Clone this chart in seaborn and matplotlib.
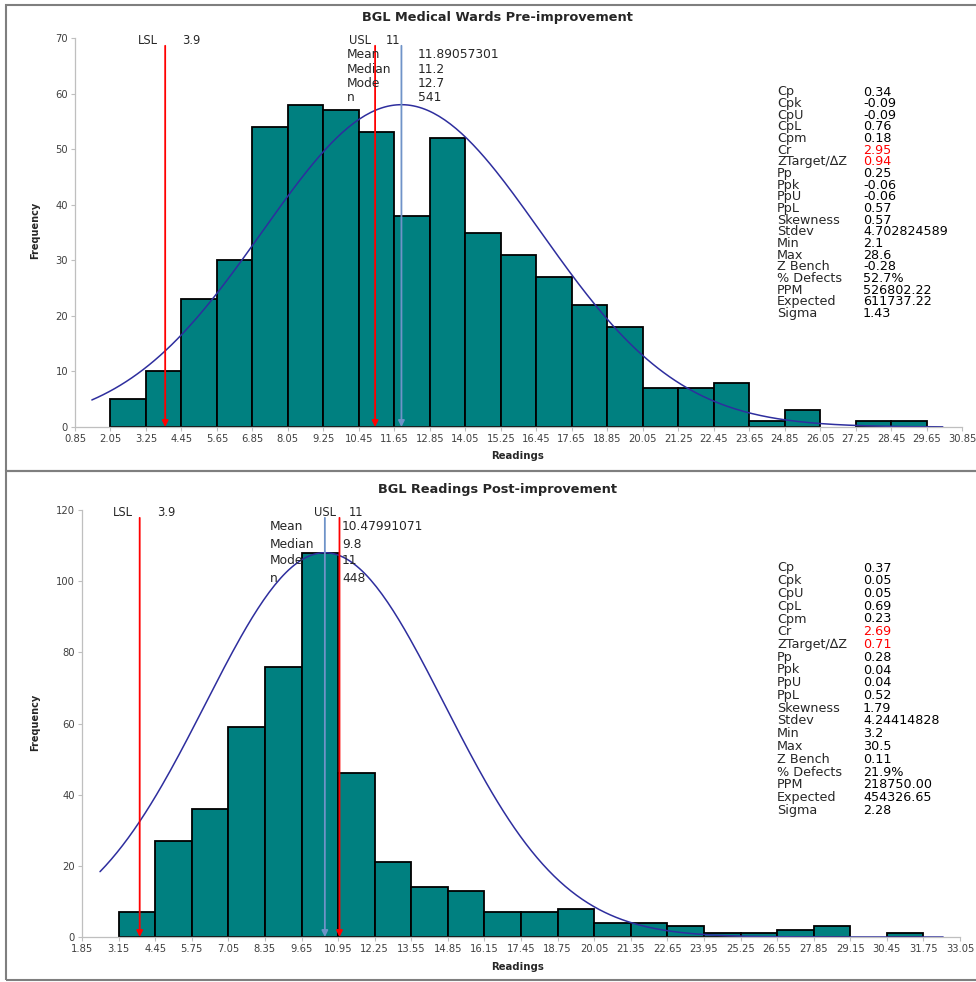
import numpy as np
import pandas as pd
import matplotlib
matplotlib.use("Agg")
import matplotlib.pyplot as plt
import seaborn as sns
from matplotlib.patches import Rectangle

# ---- data ----
pre_title = "BGL Medical Wards Pre-improvement"
pre_bin_start = 0.85
pre_bin_width = 1.2
pre_counts = [0, 5, 10, 23, 30, 54, 58, 57, 53, 38, 52, 35, 31, 27, 22, 18,
              7, 7, 8, 1, 3, 0, 1, 1, 0]
pre_mean, pre_sd, pre_peak = 11.89057301, 4.702824589, 58
pre_curve_range = (1.42, 30.2)
pre_summary = [("Mean", "11.89057301"), ("Median", "11.2"), ("Mode", "12.7"), ("n", "541")]
pre_stats = [("Cp", "0.34"), ("Cpk", "-0.09"), ("CpU", "-0.09"), ("CpL", "0.76"),
             ("Cpm", "0.18"), ("Cr", "2.95"), ("ZTarget/\u2206Z", "0.94"),
             ("Pp", "0.25"), ("Ppk", "-0.06"), ("PpU", "-0.06"), ("PpL", "0.57"),
             ("Skewness", "0.57"), ("Stdev", "4.702824589"), ("Min", "2.1"),
             ("Max", "28.6"), ("Z Bench", "-0.28"), ("% Defects", "52.7%"),
             ("PPM", "526802.22"), ("Expected", "611737.22"), ("Sigma", "1.43")]

post_title = "BGL Readings Post-improvement"
post_bin_start = 1.85
post_bin_width = 1.3
post_counts = [0, 7, 27, 36, 59, 76, 108, 46, 21, 14, 13, 7, 7, 8, 4, 4, 3,
               1, 1, 2, 3, 0, 1, 0]
post_mean, post_sd, post_peak = 10.47991071, 4.24414828, 108
post_curve_range = (2.49, 32.45)
post_summary = [("Mean", "10.47991071"), ("Median", "9.8"), ("Mode", "11"), ("n", "448")]
post_stats = [("Cp", "0.37"), ("Cpk", "0.05"), ("CpU", "0.05"), ("CpL", "0.69"),
              ("Cpm", "0.23"), ("Cr", "2.69"), ("ZTarget/\u2206Z", "0.71"),
              ("Pp", "0.28"), ("Ppk", "0.04"), ("PpU", "0.04"), ("PpL", "0.52"),
              ("Skewness", "1.79"), ("Stdev", "4.24414828"), ("Min", "3.2"),
              ("Max", "30.5"), ("Z Bench", "0.11"), ("% Defects", "21.9%"),
              ("PPM", "218750.00"), ("Expected", "454326.65"), ("Sigma", "2.28")]

lsl, usl = 3.9, 11
red_rows = ("Cr", "ZTarget/\u2206Z")

W, H = 976, 982
TEAL = "#008080"
CURVE = "#2e2e9e"
MEANC = "#6f93c8"
GREY = "#bfbfbf"

sns.set_style("white")
plt.rcParams["font.family"] = ["DejaVu Sans"]

fig = plt.figure(figsize=(W / 100, H / 100), dpi=100)


def fx(x):
    return x / W


def fy(y):
    return 1 - y / H


def draw_panel(box, title, title_y, bin_start, bin_width, counts, mean, sd, peak,
               curve_range, ymax, ystep, line_top, summary, sum_xy, stats,
               stats_y, stats_dy, lsl_txt, usl_txt, ylab_y, xlab_y):
    x0, y0, x1, y1 = box
    ax = fig.add_axes([fx(x0), fy(y1), fx(x1 - x0), (y1 - y0) / H])
    n_bins = len(counts)
    edges = np.round(bin_start + bin_width * np.arange(n_bins + 1), 2)
    df = pd.DataFrame({"reading": (edges[:-1] + edges[1:]) / 2,
                       "count": counts})
    sns.histplot(data=df, x="reading", weights="count", bins=edges.tolist(), ax=ax,
                 color=TEAL, alpha=1, edgecolor="black", linewidth=1.3)
    for p in ax.patches:
        if p.get_height() == 0:
            p.set_visible(False)

    xs = np.linspace(curve_range[0], curve_range[1], 300)
    ys = peak * np.exp(-0.5 * ((xs - mean) / sd) ** 2)
    sns.lineplot(x=xs, y=ys, ax=ax, color=CURVE, linewidth=1.1)

    for xv, col in ((lsl, "red"), (usl, "red"), (mean, MEANC)):
        ax.annotate("", xy=(xv, 0), xytext=(xv, line_top),
                    arrowprops=dict(arrowstyle="-|>", color=col, lw=1.3,
                                    mutation_scale=9, shrinkA=0, shrinkB=0))

    ax.set_xlim(edges[0], edges[-1])
    ax.set_ylim(0, ymax)
    ax.set_xticks(edges)
    ax.set_xticklabels([f"{e:.2f}" for e in edges])
    ax.set_yticks(np.arange(0, ymax + 1, ystep))
    ax.tick_params(axis="both", labelsize=7.2, colors=GREY, labelcolor="#404040",
                   length=3, width=0.8, direction="out", pad=2)
    ax.tick_params(axis="x", bottom=True)
    ax.tick_params(axis="y", left=True)
    for s in ("top", "right"):
        ax.spines[s].set_visible(False)
    for s in ("left", "bottom"):
        ax.spines[s].set_color(GREY)
        ax.spines[s].set_linewidth(0.9)
    ax.set_xlabel("")
    ax.set_ylabel("")
    ax.patch.set_alpha(0)

    fig.text(fx(497), fy(title_y), title, ha="center", va="center",
             fontsize=9.3, fontweight="bold")
    fig.text(fx(35), fy(ylab_y), "Frequency", rotation=90, ha="center",
             va="center", fontsize=7, fontweight="bold")
    fig.text(fx(518), fy(xlab_y), "Readings", ha="center", va="center",
             fontsize=7.3, fontweight="bold")

    for (tx, ty, s) in lsl_txt + usl_txt:
        fig.text(fx(tx), fy(ty), s, ha="left", va="center", fontsize=8.3)

    sx_lab, sx_val, sy0, sdy = sum_xy
    for i, (lab, val) in enumerate(summary):
        fig.text(fx(sx_lab), fy(sy0 + i * sdy), lab, ha="left", va="center", fontsize=8.8)
        fig.text(fx(sx_val), fy(sy0 + i * sdy), val, ha="left", va="center", fontsize=8.8)

    for i, (lab, val) in enumerate(stats):
        y = stats_y + i * stats_dy
        fig.text(fx(777), fy(y), lab, ha="left", va="center", fontsize=9.2)
        fig.text(fx(863), fy(y), val, ha="left", va="center", fontsize=9.2,
                 color="red" if lab in red_rows else "black")
    return ax


draw_panel((75, 38, 962, 427), pre_title, 18, pre_bin_start, pre_bin_width,
           pre_counts, pre_mean, pre_sd, pre_peak, pre_curve_range, 70, 10, 68.6,
           pre_summary, (347, 418, 55, 14.2), pre_stats, 92, 11.65,
           [(138, 41, "LSL"), (182, 41, "3.9")], [(349, 41, "USL"), (386, 41, "11")],
           230, 456)

draw_panel((82, 510, 960, 937), post_title, 489, post_bin_start, post_bin_width,
           post_counts, post_mean, post_sd, post_peak, post_curve_range, 120, 20, 117.8,
           post_summary, (270, 342, 527, 17), post_stats, 568, 12.75,
           [(113, 513, "LSL"), (157, 513, "3.9")], [(314, 513, "USL"), (349, 513, "11")],
           722, 967)

# panel frames
for (ya, yb) in ((5, 471), (471, 980)):
    fig.add_artist(Rectangle((fx(6), fy(yb)), fx(W + 10 - 6), (yb - ya) / H,
                             transform=fig.transFigure, fill=False,
                             edgecolor="#7f7f7f", linewidth=1.5))

fig.savefig("out.png", dpi=100)
